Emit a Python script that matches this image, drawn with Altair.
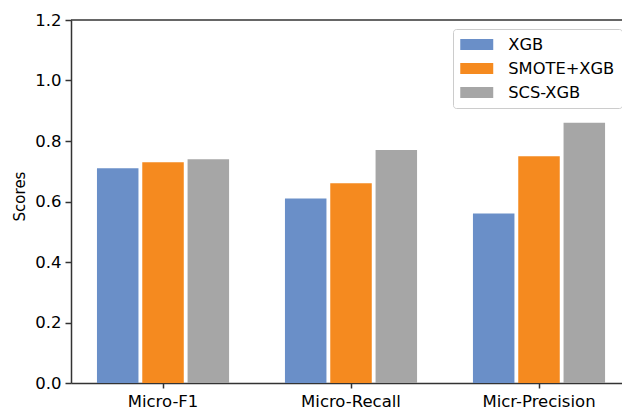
import altair as alt
import pandas as pd

# Scores per metric for each method
metrics = ["Micro-F1", "Micro-Recall", "Micr-Precision"]
methods = ["XGB", "SMOTE+XGB", "SCS-XGB"]
xgb = [0.71, 0.61, 0.56]
smote_xgb = [0.73, 0.66, 0.75]
scs_xgb = [0.74, 0.77, 0.86]
colors = ["#6a8fc8", "#f58a1f", "#a6a6a6"]
y_ticks = [0.0, 0.2, 0.4, 0.6, 0.8, 1.0, 1.2]

rows = []
for method, values in zip(methods, [xgb, smote_xgb, scs_xgb]):
    for metric, v in zip(metrics, values):
        rows.append({"metric": metric, "method": method, "score": v})
df = pd.DataFrame(rows)

W, H = 551, 363
FONT = "DejaVu Sans"
AXIS_COLOR = "#333333"

bars = alt.Chart(df).mark_bar().encode(
    x=alt.X(
        "metric:N",
        sort=metrics,
        title=None,
        scale=alt.Scale(paddingInner=0.117, paddingOuter=0.024, align=1),
        axis=alt.Axis(labelAngle=0, labelFontSize=16.5, labelColor="black",
                      labelFont=FONT, labelPadding=5, tickSize=5,
                      domainColor=AXIS_COLOR, tickColor=AXIS_COLOR,
                      domainWidth=1.5, tickWidth=1.5),
    ),
    xOffset=alt.XOffset(
        "method:N",
        sort=methods,
        scale=alt.Scale(paddingInner=0.084, paddingOuter=0.374),
    ),
    y=alt.Y(
        "score:Q",
        scale=alt.Scale(domain=[0, 1.2], nice=False),
        axis=alt.Axis(values=y_ticks, format=".1f", title="Scores",
                      grid=False, labelFontSize=16.5, labelColor="black",
                      labelFont=FONT, labelPadding=4, tickSize=6,
                      titleFont=FONT, titleFontSize=15, titleFontWeight="normal",
                      titleColor="black", titlePadding=7, titleY=176,
                      domainColor=AXIS_COLOR, tickColor=AXIS_COLOR,
                      domainWidth=1.5, tickWidth=1.5),
    ),
    color=alt.Color(
        "method:N",
        sort=methods,
        scale=alt.Scale(domain=methods, range=colors),
        legend=alt.Legend(
            title=None,
            orient="none",
            legendX=382,
            legendY=9,
            symbolType="M-2,-0.68H2V0.68H-2Z",
            symbolSize=272,
            symbolStrokeWidth=0,
            symbolOpacity=1,
            symbolOffset=8.25,
            labelFont=FONT,
            labelFontSize=16.3,
            labelColor="black",
            labelOffset=23,
            rowPadding=7,
            padding=7,
            fillColor="white",
            strokeColor="#cccccc",
            cornerRadius=3,
        ),
    ),
)

top_spine = alt.Chart(pd.DataFrame({"s": [0]})).mark_rule(
    color=AXIS_COLOR, strokeWidth=1.5
).encode(x=alt.value(0), x2=alt.value(W), y=alt.value(0))

chart = alt.layer(bars, top_spine).properties(
    width=W,
    height=H,
    autosize=alt.AutoSizeParams(type="none"),
    padding={"left": 71, "top": 20, "right": 0, "bottom": 27},
).configure_view(stroke=None).configure_axis(grid=False)

chart.save("out.html", embed_options={"renderer": "svg", "actions": False})
